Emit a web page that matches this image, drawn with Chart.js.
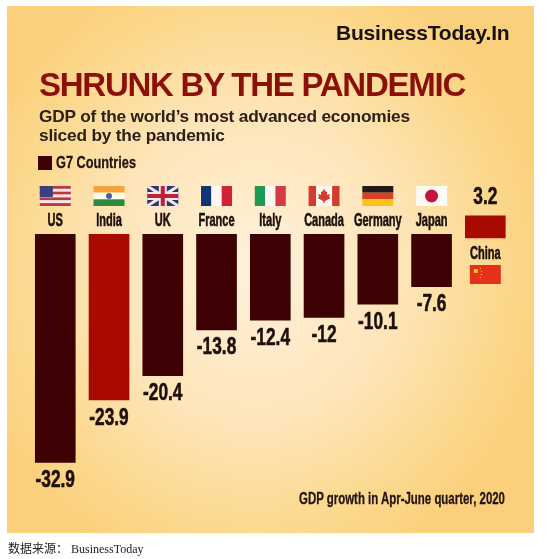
<!DOCTYPE html>
<html>
<head>
<meta charset="utf-8">
<script src="https://cdn.jsdelivr.net/npm/chart.js@4/dist/chart.umd.min.js"></script>
<style>
    html, body { margin: 0; padding: 0; background: #fff; }
    #page { position: relative; width: 550px; height: 559px; overflow: hidden; font-family: 'Liberation Sans', sans-serif; }
    #panel { position: absolute; left: 7px; top: 6px; width: 527px; height: 527px;
        background: radial-gradient(ellipse 300px 320px at 47% 50%, #fff1da 0%, #fee5b8 50%, #fcd98f 80%, #fbd07c 100%); }
    canvas { position: absolute; left: 0; top: 0; }
    .txt { position: absolute; white-space: nowrap; }
    .narrow { font-weight: bold; color: #241410; transform-origin: left center; -webkit-text-stroke: 0.3px #241410; }
</style>
</head>
<body>
<div id="page">
    <div id="panel"></div>
    <canvas id="gdpChart" width="550" height="559"></canvas>
    <div class="txt" style="left:336px;top:21px;font-size:21px;font-weight:bold;letter-spacing:-0.2px;color:#17120f">BusinessToday.In</div>
    <div class="txt" style="left:39px;top:66px;font-size:33px;font-weight:bold;letter-spacing:-1.25px;color:#8c100a">SHRUNK BY THE PANDEMIC</div>
    <div class="txt" style="left:39px;top:107px;font-size:17.3px;line-height:18.5px;font-weight:bold;letter-spacing:-0.2px;color:#2c2018">GDP of the world’s most advanced economies<br>sliced by the pandemic</div>
    <div class="txt" style="left:38px;top:156px;width:14px;height:14px;background:#3f0204"></div>
    <div class="txt narrow" style="left:56px;top:153px;font-size:17px;transform:scaleX(0.75)">G7 Countries</div>
    <div class="txt narrow" style="left:299px;top:490px;font-size:16px;transform:scaleX(0.715)">GDP growth in Apr-June quarter, 2020</div>
    <div class="txt" style="left:8px;top:539px;font-size:12px;color:#222;font-family:'Liberation Serif','Noto Sans CJK SC',serif">数据来源： BusinessToday</div>
</div>
<script>
const countries = ['US', 'India', 'UK', 'France', 'Italy', 'Canada', 'Germany', 'Japan', 'China'];
const gdpG7 = [-32.9, -23.9, -20.4, -13.8, -12.4, -12, -10.1, -7.6, null];
const gdpChina = [null, null, null, null, null, null, null, null, 3.2];

const darkBar = '#3f0204';
const redBar = '#a80a02';
const inkColor = '#1d100c';

// small flag painters, each fills a w x h box at x, y
const stripesH = (c, x, y, w, h, cols) => cols.forEach((col, i) => {
    c.fillStyle = col;
    c.fillRect(x, y + h * i / cols.length, w, h / cols.length);
});
const stripesV = (c, x, y, w, h, cols) => cols.forEach((col, i) => {
    c.fillStyle = col;
    c.fillRect(x + w * i / cols.length, y, w / cols.length, h);
});
const flags = {
    US(c, x, y, w, h) {
        stripesH(c, x, y, w, h, ['#b5394a', '#f3e6e4', '#b5394a', '#f3e6e4', '#b5394a', '#f3e6e4', '#b5394a']);
        c.fillStyle = '#39407a';
        c.fillRect(x, y, w * 0.42, h * 0.55);
    },
    India(c, x, y, w, h) {
        stripesH(c, x, y, w, h, ['#f6a13c', '#fdf8f0', '#2c8a3a']);
        c.fillStyle = '#4a5fa0';
        c.beginPath();
        c.arc(x + w / 2, y + h / 2, 3, 0, Math.PI * 2);
        c.fill();
    },
    UK(c, x, y, w, h) {
        c.fillStyle = '#2c3570';
        c.fillRect(x, y, w, h);
        c.lineWidth = 3;
        c.strokeStyle = '#f2e8e8';
        c.beginPath();
        c.moveTo(x, y); c.lineTo(x + w, y + h);
        c.moveTo(x + w, y); c.lineTo(x, y + h);
        c.stroke();
        c.fillStyle = '#f2e8e8';
        c.fillRect(x + w / 2 - 4, y, 8, h);
        c.fillRect(x, y + h / 2 - 4, w, 8);
        c.fillStyle = '#c2203a';
        c.fillRect(x + w / 2 - 2, y, 4, h);
        c.fillRect(x, y + h / 2 - 2, w, 4);
    },
    France(c, x, y, w, h) { stripesV(c, x, y, w, h, ['#123474', '#fdf9f2', '#cf2436']); },
    Italy(c, x, y, w, h) { stripesV(c, x, y, w, h, ['#1f9a55', '#fdf9f2', '#d23a46']); },
    Canada(c, x, y, w, h) {
        c.fillStyle = '#fdf6ee';
        c.fillRect(x, y, w, h);
        c.fillStyle = '#d63a2c';
        c.fillRect(x, y, w * 0.24, h);
        c.fillRect(x + w * 0.76, y, w * 0.24, h);
        const mx = x + w / 2;
        c.beginPath();
        c.moveTo(mx, y + 3);
        c.lineTo(mx + 2, y + 6);
        c.lineTo(mx + 3, y + 5.5);
        c.lineTo(mx + 3, y + 9);
        c.lineTo(mx + 6, y + 8);
        c.lineTo(mx + 5, y + 11);
        c.lineTo(mx + 6.5, y + 12);
        c.lineTo(mx + 1, y + 15);
        c.lineTo(mx - 1, y + 15);
        c.lineTo(mx - 6.5, y + 12);
        c.lineTo(mx - 5, y + 11);
        c.lineTo(mx - 6, y + 8);
        c.lineTo(mx - 3, y + 9);
        c.lineTo(mx - 3, y + 5.5);
        c.lineTo(mx - 2, y + 6);
        c.closePath();
        c.fill();
        c.fillRect(mx - 0.7, y + 14, 1.4, 3);
    },
    Germany(c, x, y, w, h) { stripesH(c, x, y, w, h, ['#221a18', '#d9401f', '#fbc31e']); },
    Japan(c, x, y, w, h) {
        c.fillStyle = '#fefaf4';
        c.fillRect(x, y, w, h);
        c.fillStyle = '#c8143c';
        c.beginPath();
        c.arc(x + w / 2, y + h / 2, 6.5, 0, Math.PI * 2);
        c.fill();
    },
    China(c, x, y, w, h) {
        c.fillStyle = '#e5301a';
        c.fillRect(x, y, w, h);
        c.fillStyle = '#f8c61c';
        c.fillRect(x + 4, y + 4, 4, 4);
        [[10, 3], [11, 6], [11, 9], [10, 12]].forEach(p => c.fillRect(x + p[0], y + p[1], 1.2, 1.2));
    }
};

// no condensed face is installed, so squeeze Liberation Sans Bold sideways
const narrowText = (c, text, x, y, size, squeeze) => {
    c.save();
    c.translate(x, y);
    c.scale(squeeze, 1);
    c.font = `bold ${size}px 'Liberation Sans'`;
    c.fillStyle = inkColor;
    c.strokeStyle = inkColor;
    c.lineWidth = 0.6;
    c.textAlign = 'center';
    c.textBaseline = 'middle';
    c.fillText(text, 0, 0);
    c.strokeText(text, 0, 0);
    c.restore();
};

// country names, value labels and flags sit around the bars
const barExtras = {
    id: 'barExtras',
    afterDatasetsDraw(chart) {
        const c = chart.ctx;
        const xs = chart.scales.x;
        const ys = chart.scales.y;
        const ys2 = chart.scales.y2;
        countries.forEach((name, i) => {
            const cx = xs.getPixelForValue(i);
            if (gdpG7[i] !== null) {
                flags[name](c, cx - 15.5, 186, 31, 20);
                narrowText(c, name, cx, 221, 19, 0.58);
                narrowText(c, String(gdpG7[i]), cx, ys.getPixelForValue(gdpG7[i]) + 18, 24, 0.72);
            } else {
                narrowText(c, String(gdpChina[i]), cx, ys2.getPixelForValue(gdpChina[i]) - 18, 24, 0.72);
                narrowText(c, name, cx, ys2.getPixelForValue(0) + 16, 19, 0.58);
                flags[name](c, cx - 15.5, 265, 31, 19);
            }
        });
    }
};

new Chart(document.getElementById('gdpChart'), {
    type: 'bar',
    data: {
        labels: countries,
        datasets: [
            {
                label: 'G7 Countries',
                data: gdpG7,
                yAxisID: 'y',
                grouped: false,
                backgroundColor: countries.map(name => name === 'India' ? redBar : darkBar),
                barThickness: 40,
            },
            {
                label: 'China',
                data: gdpChina,
                yAxisID: 'y2',
                grouped: false,
                clip: false,
                backgroundColor: redBar,
                barThickness: 40,
            }
        ]
    },
    plugins: [barExtras],
    options: {
        responsive: false,
        animation: false,
        layout: { padding: { left: 28.4, right: 37.8, top: 0, bottom: 75 } },
        plugins: {
            legend: { display: false },
            tooltip: { enabled: false },
        },
        scales: {
            x: {
                position: 'top',
                afterFit: (scale) => { scale.height = 234; },
                border: { display: false },
                grid: { display: false },
                ticks: { display: false },
            },
            y: { display: false, min: -36, max: 0 },
            // China's bar rises from a line a few pixels below the G7 bars' tops
            y2: { display: false, min: -35.42, max: 0.58 },
        }
    }
});
</script>
</body>
</html>
